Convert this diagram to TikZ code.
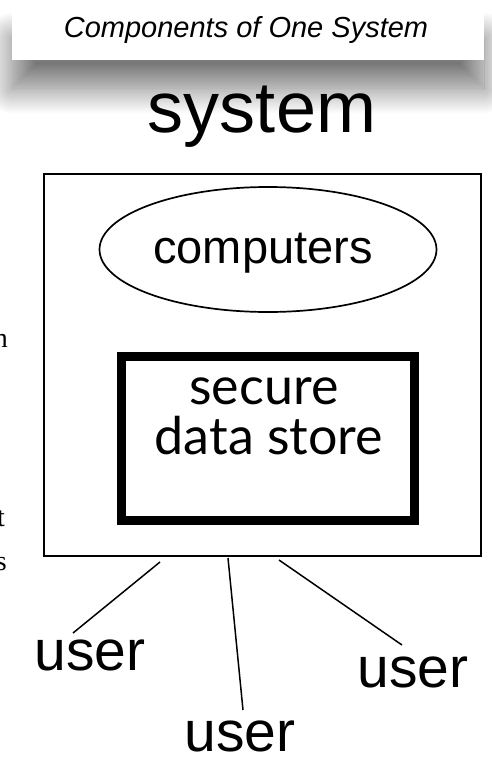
\documentclass[tikz,border=0pt]{standalone}
\usepackage{fontspec}
\setmainfont{Liberation Sans}
\newfontfamily\gillfont{Lato}
\newfontfamily\cutfont{Liberation Serif}
\usetikzlibrary{shapes.geometric,shadows.blur}
\begin{document}
\begin{tikzpicture}[x=1pt,y=-1pt,
    word/.style={inner sep=0pt,anchor=base,font=\fontsize{57}{60}\selectfont},
    cutword/.style={inner sep=0pt,anchor=base east,font=\cutfont\fontsize{28}{30}\selectfont},
    wire/.style={line width=1.5pt}]
  \useasboundingbox (0,0) rectangle (492,761);
  \clip (0,0) rectangle (492,761);
  \node[fill=white,minimum width=472pt,minimum height=50pt,inner sep=0pt,
        blur shadow={shadow xshift=0pt,shadow yshift=-28pt,shadow blur radius=26pt,
                     shadow blur steps=30,shadow opacity=55}]
    (titlebox) at (248,35) {};
  \draw
    (246,37) node[inner sep=0pt,anchor=base,font=\itshape\fontsize{29}{32}\selectfont] (title){Components of One System}
    (262,132) node[inner sep=0pt,anchor=base,font=\fontsize{72}{76}\selectfont] (sysname){system};
  \node[draw,line width=2pt,minimum width=437pt,minimum height=382pt,inner sep=0pt] (sys) at (262.5,365) {};
  \node[draw,ellipse,line width=1.7pt,minimum width=337pt,minimum height=125pt,inner sep=0pt] (comp) at (268,249.5) {};
  \node[word,font=\fontsize{47}{50}\selectfont] (comptext) at (263,263) {computers};
  \node[draw,line width=9pt,minimum width=293pt,minimum height=164pt,inner sep=0pt] (store) at (268,438.5) {};
  \draw
    (264,404) node[word,font=\gillfont\fontsize{52}{56}\selectfont] (store1){secure}
    (269,454) node[word,font=\gillfont\fontsize{52}{56}\selectfont] (store2){data store};
  \draw
    (90,670) node[word] (user1){user}
    (240,751) node[word] (user2){user}
    (413,687) node[word] (user3){user};
  % bits of the page beside it
  \draw
    (8,347) node[cutword] (cut1){n}
    (5,526) node[cutword] (cut2){t}
    (7,570) node[cutword] (cut3){s};
  \coordinate (a1) at (160,562);
  \coordinate (a2) at (228,558);
  \coordinate (a3) at (279,560);
  \coordinate (b1) at (73,633);
  \coordinate (b2) at (243,710);
  \coordinate (b3) at (402,645);
  \begin{scope}[wire]
    \draw (a1) to (b1);
    \draw (a2) to (b2);
    \draw (a3) to (b3);
  \end{scope}
\end{tikzpicture}
\end{document}
